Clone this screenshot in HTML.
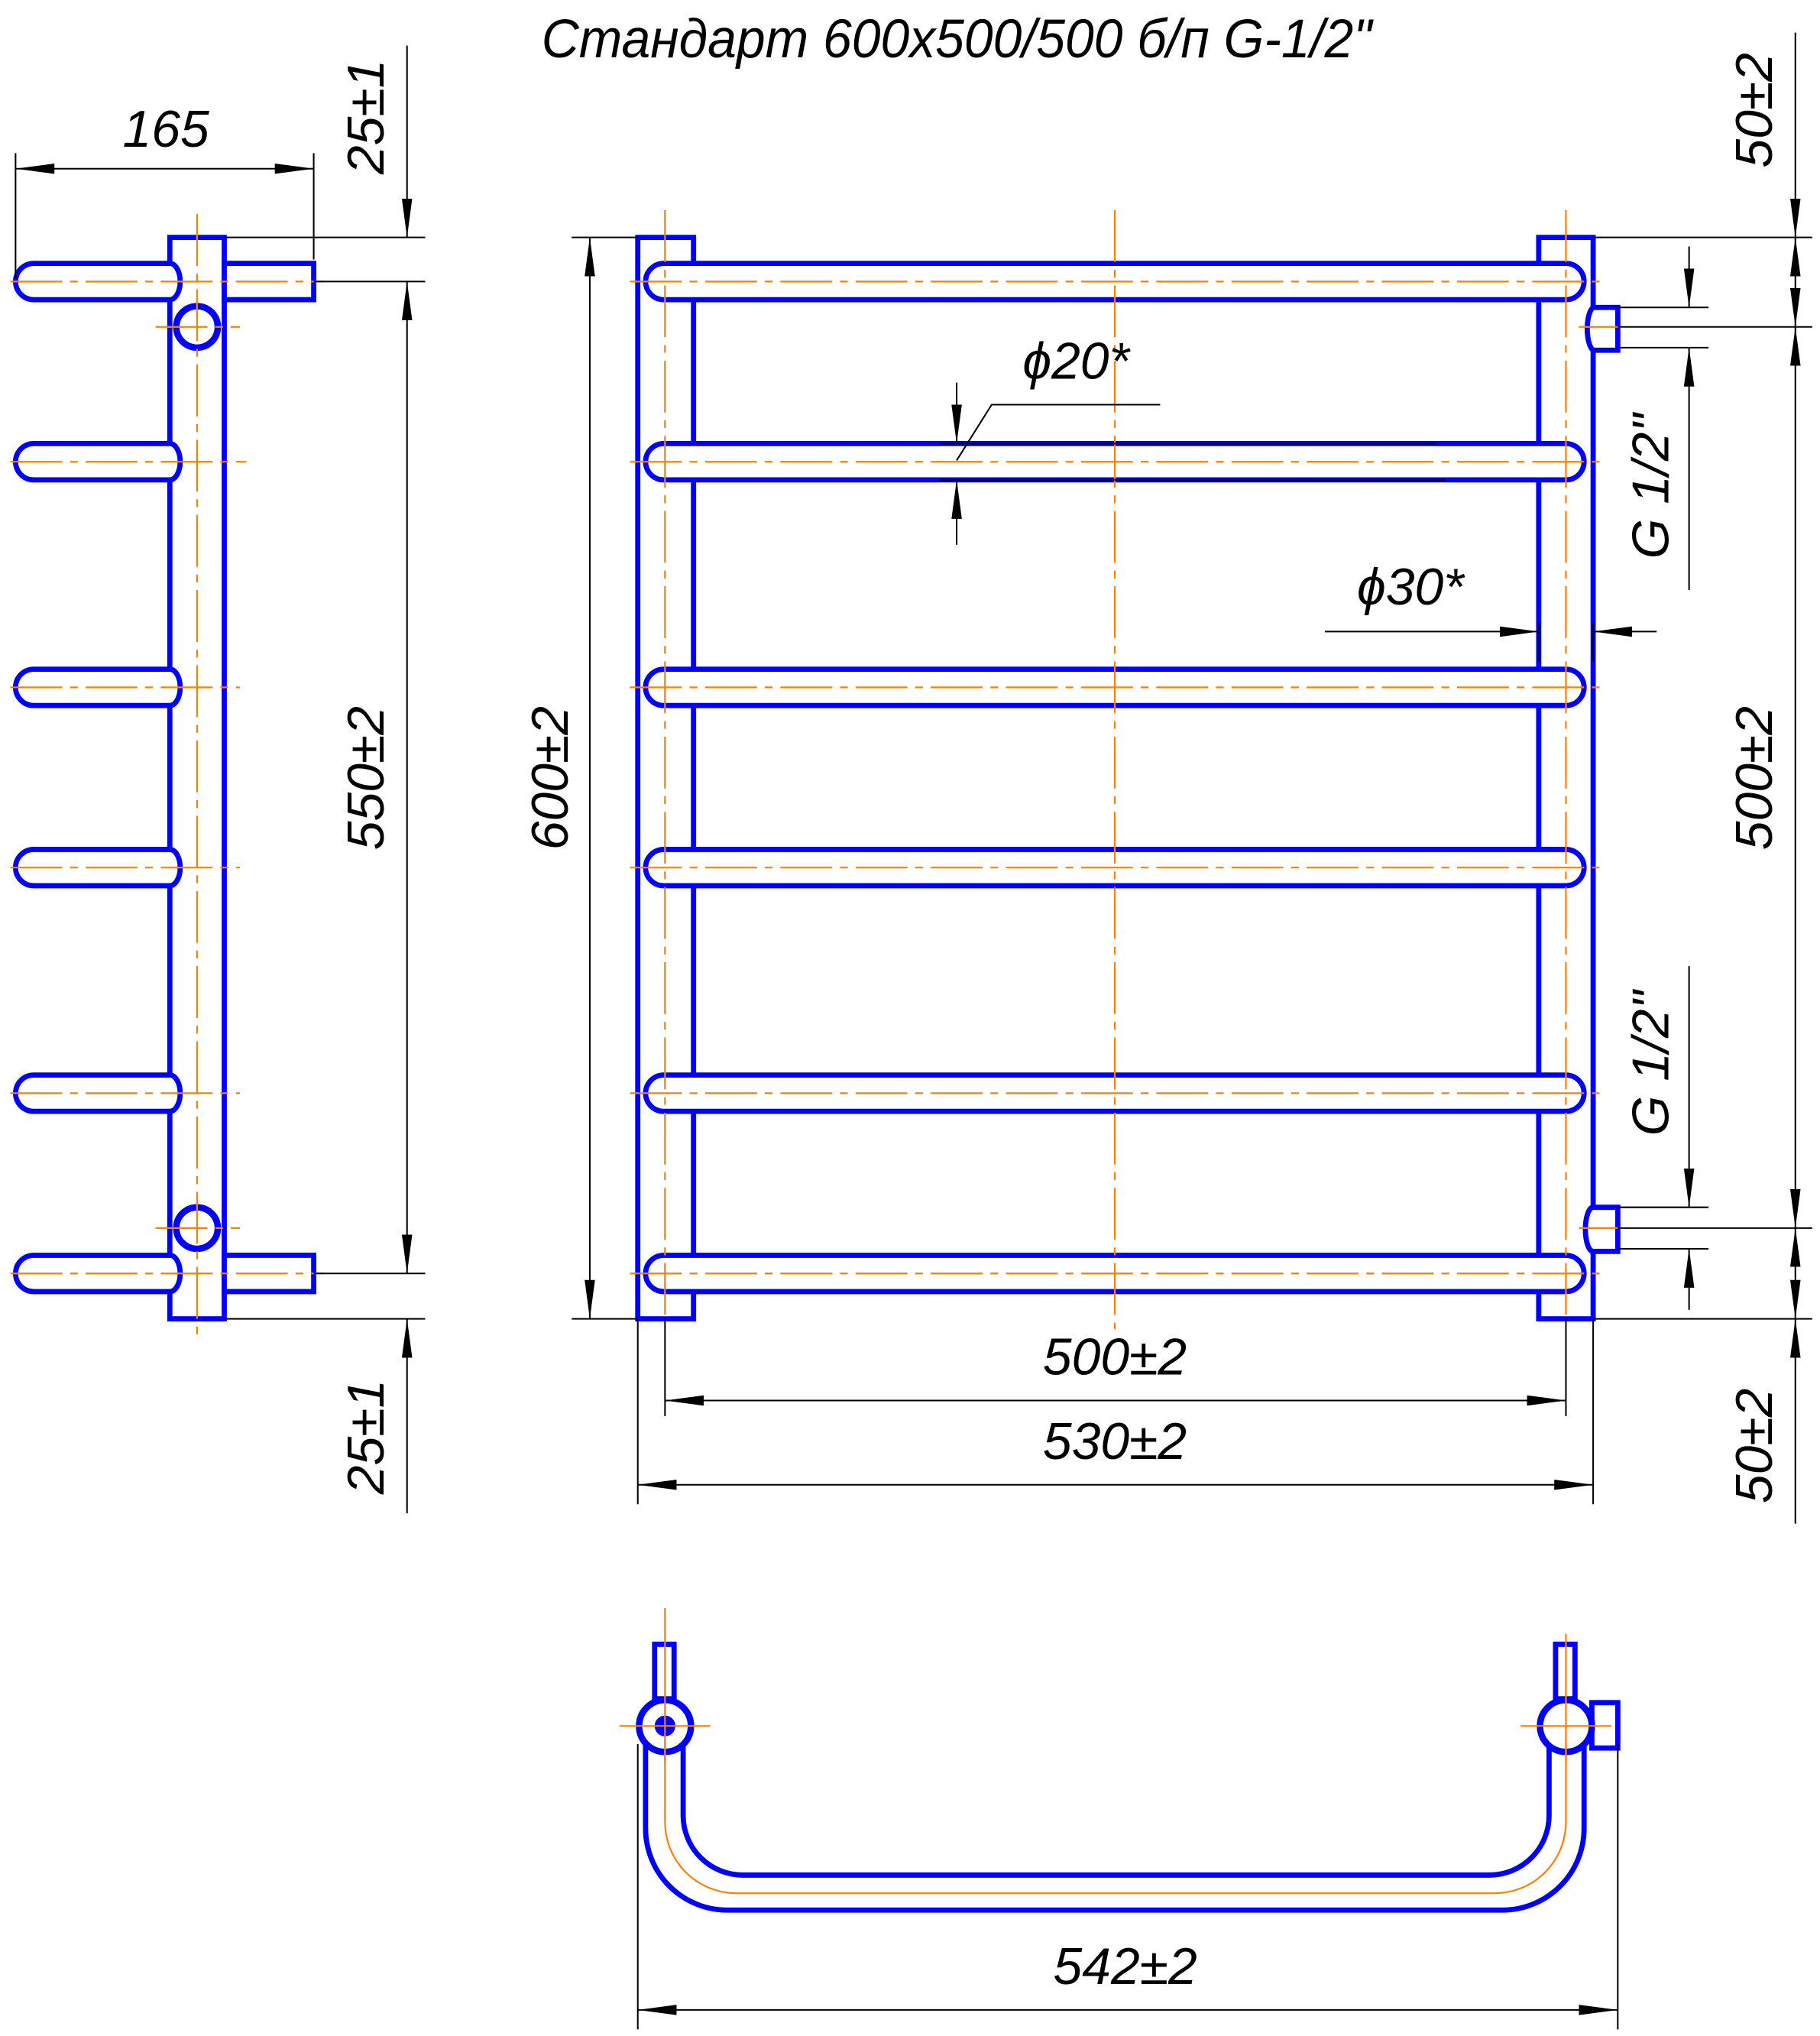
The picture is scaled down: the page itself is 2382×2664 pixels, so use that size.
<!DOCTYPE html>
<html><head><meta charset="utf-8"><style>
html,body{margin:0;padding:0;background:#fff}
svg{display:block}
text{font-family:"Liberation Sans",sans-serif;font-style:italic;fill:#000}
</style></head><body>
<svg width="2382" height="2664" viewBox="0 0 1404 1570" xmlns="http://www.w3.org/2000/svg">
<defs>
<marker id="a" viewBox="0 0 30 10" refX="30" refY="5" markerWidth="30" markerHeight="10" markerUnits="userSpaceOnUse" orient="auto-start-reverse"><path d="M0,1 L30,5 L0,9 Z" fill="#000"/></marker>
</defs>
<rect width="1404" height="1570" fill="#fff"/>
<text x="738" y="42" font-size="40" text-anchor="middle" transform="translate(738 0) scale(1.0 1.05) translate(-738 0)">Стандарт 600х500/500 б/п  G-1/2"</text>

<!-- ===== Side view ===== -->
<g fill="#fff" stroke="#0000ff" stroke-width="4">
<rect x="131" y="183" width="42" height="834"/>
<rect x="173" y="203" width="69" height="28"/>
<rect x="173" y="968" width="69" height="28"/>
<g>
<path d="M131,203 H26 A14,14 0 0 0 26,231 H131 A8,14 0 0 0 131,203Z"/>
<path d="M131,342 H26 A14,14 0 0 0 26,370 H131 A8,14 0 0 0 131,342Z"/>
<path d="M131,516 H26 A14,14 0 0 0 26,544 H131 A8,14 0 0 0 131,516Z"/>
<path d="M131,655 H26 A14,14 0 0 0 26,683 H131 A8,14 0 0 0 131,655Z"/>
<path d="M131,829 H26 A14,14 0 0 0 26,857 H131 A8,14 0 0 0 131,829Z"/>
<path d="M131,968 H26 A14,14 0 0 0 26,996 H131 A8,14 0 0 0 131,968Z"/>
</g>
<circle cx="152" cy="252" r="16" stroke-width="5"/>
<circle cx="152" cy="947" r="16" stroke-width="5"/>
</g>
<g stroke="#ff8000" stroke-width="1.3" stroke-dasharray="40,6,6,6">
<line x1="152" y1="165" x2="152" y2="1030"/>
<line x1="8" y1="217" x2="250" y2="217"/>
<line x1="8" y1="356" x2="190" y2="356"/>
<line x1="8" y1="530" x2="185" y2="530"/>
<line x1="8" y1="669" x2="185" y2="669"/>
<line x1="8" y1="843" x2="185" y2="843"/>
<line x1="8" y1="982" x2="250" y2="982"/>
<line x1="120" y1="252" x2="185" y2="252"/>
<line x1="120" y1="947" x2="185" y2="947"/>
</g>
<g stroke="#000" stroke-width="1.2" fill="none">
<line x1="12" y1="118" x2="12" y2="215"/>
<line x1="242" y1="118" x2="242" y2="200"/>
<line x1="12" y1="130" x2="242" y2="130" marker-start="url(#a)" marker-end="url(#a)"/>
<line x1="173" y1="183" x2="328" y2="183"/>
<line x1="242" y1="217" x2="328" y2="217"/>
<line x1="242" y1="982" x2="328" y2="982"/>
<line x1="173" y1="1017" x2="328" y2="1017"/>
<line x1="314" y1="35" x2="314" y2="183" marker-end="url(#a)"/>
<line x1="314" y1="217" x2="314" y2="982" marker-start="url(#a)" marker-end="url(#a)"/>
<line x1="314" y1="1017" x2="314" y2="1167" marker-start="url(#a)"/>
</g>
<text x="128" y="113" font-size="40" text-anchor="middle">165</text>
<text font-size="40" text-anchor="middle" transform="translate(296 90) rotate(-90)">25±1</text>
<text font-size="40" text-anchor="middle" transform="translate(296 600) rotate(-90)">550±2</text>
<text font-size="40" text-anchor="middle" transform="translate(296 1108) rotate(-90)">25±1</text>

<!-- ===== Front view ===== -->
<g fill="#fff" stroke="#0000ff" stroke-width="4">
<rect x="492" y="183" width="43" height="834"/>
<rect x="1187" y="183" width="42" height="834"/>
<path d="M1229,237 H1248 V270 H1229 A6,17 0 0 1 1229,237Z"/>
<path d="M1229,931 H1248 V965 H1229 A6,17 0 0 1 1229,931Z"/>
<path d="M512,203 H1208 A14,14 0 0 1 1208,231 H512 A14,14 0 0 1 512,203Z"/>
<path d="M512,342 H1208 A14,14 0 0 1 1208,370 H512 A14,14 0 0 1 512,342Z"/>
<path d="M512,516 H1208 A14,14 0 0 1 1208,544 H512 A14,14 0 0 1 512,516Z"/>
<path d="M512,655 H1208 A14,14 0 0 1 1208,683 H512 A14,14 0 0 1 512,655Z"/>
<path d="M512,829 H1208 A14,14 0 0 1 1208,857 H512 A14,14 0 0 1 512,829Z"/>
<path d="M512,968 H1208 A14,14 0 0 1 1208,996 H512 A14,14 0 0 1 512,968Z"/>
</g>
<g stroke="#ff8000" stroke-width="1.3" stroke-dasharray="40,6,6,6">
<line x1="513" y1="162" x2="513" y2="1020"/>
<line x1="1208" y1="162" x2="1208" y2="1020"/>
<line x1="860" y1="162" x2="860" y2="1025"/>
<line x1="486" y1="217" x2="1235" y2="217"/>
<line x1="486" y1="356" x2="1235" y2="356"/>
<line x1="486" y1="530" x2="1235" y2="530"/>
<line x1="486" y1="669" x2="1235" y2="669"/>
<line x1="486" y1="843" x2="1235" y2="843"/>
<line x1="486" y1="982" x2="1235" y2="982"/>
<line x1="1218" y1="252" x2="1250" y2="252"/>
<line x1="1218" y1="947" x2="1250" y2="947"/>
</g>
<g stroke="#000" stroke-width="1.2" fill="none">
<line x1="441" y1="183" x2="492" y2="183"/>
<line x1="441" y1="1017" x2="492" y2="1017"/>
<line x1="455" y1="183" x2="455" y2="1017" marker-start="url(#a)" marker-end="url(#a)"/>
<line x1="1229" y1="183" x2="1398" y2="183"/>
<line x1="1248" y1="252" x2="1398" y2="252"/>
<line x1="1248" y1="947" x2="1398" y2="947"/>
<line x1="1229" y1="1017" x2="1398" y2="1017"/>
<line x1="1385" y1="25" x2="1385" y2="183" marker-end="url(#a)"/>
<line x1="1385" y1="183" x2="1385" y2="252" marker-start="url(#a)" marker-end="url(#a)"/>
<line x1="1385" y1="252" x2="1385" y2="947" marker-start="url(#a)" marker-end="url(#a)"/>
<line x1="1385" y1="947" x2="1385" y2="1017" marker-start="url(#a)" marker-end="url(#a)"/>
<line x1="1385" y1="1017" x2="1385" y2="1175" marker-start="url(#a)"/>
<line x1="1248" y1="237" x2="1318" y2="237"/>
<line x1="1248" y1="268" x2="1318" y2="268"/>
<line x1="1303" y1="190" x2="1303" y2="237" marker-end="url(#a)"/>
<line x1="1303" y1="455" x2="1303" y2="268" marker-end="url(#a)"/>
<line x1="1248" y1="931" x2="1318" y2="931"/>
<line x1="1248" y1="963" x2="1318" y2="963"/>
<line x1="1303" y1="745" x2="1303" y2="931" marker-end="url(#a)"/>
<line x1="1303" y1="1010" x2="1303" y2="963" marker-end="url(#a)"/>
<line x1="738" y1="295" x2="738" y2="342" marker-end="url(#a)"/>
<line x1="738" y1="420" x2="738" y2="370" marker-end="url(#a)"/>
<line x1="725" y1="342" x2="1108" y2="342"/>
<line x1="725" y1="370" x2="1115" y2="370"/>
<polyline points="738,355 765,312 895,312"/>
<line x1="1022" y1="487" x2="1187" y2="487" marker-end="url(#a)"/>
<line x1="1278" y1="487" x2="1229" y2="487" marker-end="url(#a)"/>
<line x1="1187" y1="480" x2="1187" y2="510"/>
<line x1="1229" y1="480" x2="1229" y2="510"/>
<line x1="513" y1="1017" x2="513" y2="1092"/>
<line x1="1208" y1="1017" x2="1208" y2="1092"/>
<line x1="513" y1="1080" x2="1208" y2="1080" marker-start="url(#a)" marker-end="url(#a)"/>
<line x1="492" y1="1017" x2="492" y2="1160"/>
<line x1="1229" y1="1017" x2="1229" y2="1160"/>
<line x1="492" y1="1145" x2="1229" y2="1145" marker-start="url(#a)" marker-end="url(#a)"/>
</g>
<text font-size="40" text-anchor="middle" transform="translate(438 600) rotate(-90)">600±2</text>
<text font-size="40" text-anchor="middle" transform="translate(1367 85) rotate(-90)">50±2</text>
<text font-size="40" text-anchor="middle" transform="translate(1367 600) rotate(-90)">500±2</text>
<text font-size="40" text-anchor="middle" transform="translate(1367 1115) rotate(-90)">50±2</text>
<text font-size="40" text-anchor="middle" transform="translate(1287 375) rotate(-90)">G 1/2"</text>
<text font-size="40" text-anchor="middle" transform="translate(1287 820) rotate(-90)">G 1/2"</text>
<text x="830" y="292" font-size="40" text-anchor="middle">ϕ20*</text>
<text x="1088" y="466" font-size="40" text-anchor="middle">ϕ30*</text>
<text x="860" y="1060" font-size="40" text-anchor="middle">500±2</text>
<text x="860" y="1125" font-size="40" text-anchor="middle">530±2</text>

<!-- ===== Bottom view ===== -->
<g fill="none" stroke="#0000ff" stroke-width="4">
<path d="M498,1340 V1410 A63,63 0 0 0 561,1473 H1159 A63,63 0 0 0 1222,1410 V1345"/>
<path d="M527,1345 V1400 A46,46 0 0 0 573,1446 H1149 A46,46 0 0 0 1195,1400 V1345"/>
<rect x="505" y="1268" width="15" height="42" fill="#fff"/>
<rect x="1200" y="1268" width="15" height="42" fill="#fff"/>
<rect x="1228" y="1313" width="20" height="35" fill="#fff"/>
<circle cx="513" cy="1331" r="20" fill="#fff" stroke-width="5"/>
<circle cx="1208" cy="1331" r="20" fill="#fff" stroke-width="5"/>
</g>
<circle cx="513" cy="1331" r="8" fill="#0000ff"/>
<g stroke="#ff8000" stroke-width="1.3" fill="none">
<path d="M513,1340 V1405 A55,55 0 0 0 568,1460 H1153 A55,55 0 0 0 1208,1405 V1340"/>
<line x1="513" y1="1240" x2="513" y2="1360"/>
<line x1="1208" y1="1260" x2="1208" y2="1360"/>
<line x1="478" y1="1331" x2="548" y2="1331"/>
<line x1="1173" y1="1331" x2="1243" y2="1331"/>
</g>
<g stroke="#000" stroke-width="1.2" fill="none">
<line x1="492" y1="1345" x2="492" y2="1565"/>
<line x1="1248" y1="1345" x2="1248" y2="1565"/>
<line x1="492" y1="1550" x2="1248" y2="1550" marker-start="url(#a)" marker-end="url(#a)"/>
</g>
<text x="868" y="1530" font-size="40" text-anchor="middle">542±2</text>
</svg>
</body></html>
